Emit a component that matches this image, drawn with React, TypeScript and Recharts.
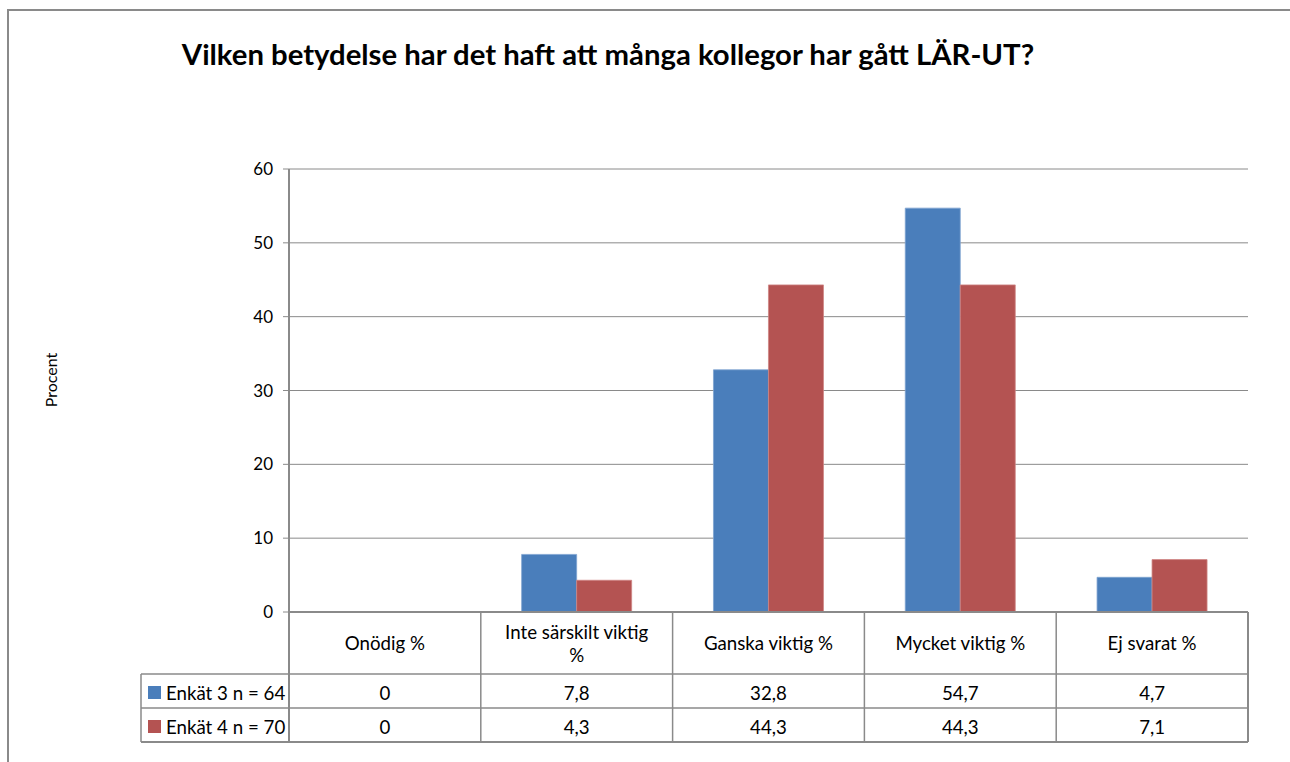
import React from "react";
import { BarChart, Bar, XAxis, YAxis, CartesianGrid } from "recharts";

const categories = ["Onödig %", "Inte särskilt viktig %", "Ganska viktig %", "Mycket viktig %", "Ej svarat %"];
const headerLines = [["Onödig %"], ["Inte särskilt viktig", "%"], ["Ganska viktig %"], ["Mycket viktig %"], ["Ej svarat %"]];
const enkat3 = [0, 7.8, 32.8, 54.7, 4.7];
const enkat4 = [0, 4.3, 44.3, 44.3, 7.1];
const enkat3Labels = ["0", "7,8", "32,8", "54,7", "4,7"];
const enkat4Labels = ["0", "4,3", "44,3", "44,3", "7,1"];
const seriesNames = ["Enkät 3 n = 64", "Enkät 4 n = 70"];
const yTicks = [0, 10, 20, 30, 40, 50, 60];

const data = categories.map((c, i) => ({ name: c, e3: enkat3[i], e4: enkat4[i] }));

const W = 1290;
const H = 762;
const PL = 289;
const PR = 1248;
const PT = 169;
const PB = 612;
const ROW0 = 674;
const ROW1 = 708;
const ROW2 = 742;
const LEG_L = 141;
const FONT = "Lato, 'Open Sans', sans-serif";
const BLUE = "#4A7EBB";
const RED = "#B45352";
const LINE = "#8A8A8A";
const TFS = 18.7;

export default function App() {
  const colW = (PR - PL) / categories.length;
  return (
    <div style={{ position: "absolute", left: 0, top: 0, width: W, height: H, background: "#fff", overflow: "hidden", fontFamily: FONT }}>
      <div style={{ position: "absolute", left: 7, top: 9, width: W, height: H, border: `2px solid ${LINE}`, boxSizing: "border-box" }} />
      <BarChart
        width={W}
        height={H}
        data={data}
        margin={{ top: PT, right: W - PR, bottom: H - PB, left: PL - 60 }}
        barCategoryGap="21.3%"
        barGap={0}
        style={{ position: "absolute", left: 0, top: 0 }}
      >
        <CartesianGrid horizontal={true} vertical={false} stroke={LINE} strokeWidth={1} />
        <XAxis dataKey="name" hide />
        <YAxis
          width={60}
          domain={[0, 60]}
          ticks={yTicks}
          interval={0}
          tickSize={6}
          tickLine={{ stroke: LINE }}
          axisLine={{ stroke: LINE, strokeWidth: 2 }}
          tick={{ fill: "#000", fontSize: 17, fontFamily: FONT }}
          tickMargin={10}
        />
        <Bar dataKey="e3" fill={BLUE} stroke="#7FA3D0" strokeWidth={0.8} isAnimationActive={false} />
        <Bar dataKey="e4" fill={RED} stroke="#CF8584" strokeWidth={0.8} isAnimationActive={false} />
      </BarChart>
      <svg width={W} height={H} style={{ position: "absolute", left: 0, top: 0, pointerEvents: "none" }}>
        <text x={0} y={0} transform="translate(57,380) rotate(-90)" textAnchor="middle" fontSize={16} fontFamily={FONT} fill="#000">
          Procent
        </text>
        <text x={608} y={65} textAnchor="middle" fontSize={29.3} fontWeight={700} fontFamily={FONT} fill="#000">
          Vilken betydelse har det haft att många kollegor har gått LÄR-UT?
        </text>
        <line x1={PL} x2={PR} y1={PB} y2={PB} stroke={LINE} strokeWidth={2} />
        <line x1={PR} x2={PR} y1={PB} y2={ROW2} stroke={LINE} strokeWidth={2} />
        <line x1={LEG_L} x2={PR} y1={ROW0} y2={ROW0} stroke={LINE} strokeWidth={1.5} />
        <line x1={LEG_L} x2={PR} y1={ROW1} y2={ROW1} stroke={LINE} strokeWidth={1.5} />
        <line x1={LEG_L} x2={PR} y1={ROW2} y2={ROW2} stroke={LINE} strokeWidth={2} />
        <line x1={LEG_L} x2={LEG_L} y1={ROW0} y2={ROW2} stroke={LINE} strokeWidth={1.5} />
        <line x1={PL} x2={PL} y1={PB} y2={ROW2} stroke={LINE} strokeWidth={2} />
        {categories.map((c, i) => (
          <line key={"v" + c} x1={PL + colW * (i + 1)} x2={PL + colW * (i + 1)} y1={PB} y2={ROW2} stroke={LINE} strokeWidth={1.5} />
        ))}
        {headerLines.map((lines, i) => {
          const cx = PL + colW * (i + 0.5);
          const lh = 23;
          const start = 650 - ((lines.length - 1) * lh) / 2;
          return lines.map((ln, j) => (
            <text key={"h" + i + j} x={cx} y={start + j * lh} textAnchor="middle" fontSize={TFS} fontFamily={FONT} fill="#000">
              {ln}
            </text>
          ));
        })}
        {[enkat3Labels, enkat4Labels].map((row, r) =>
          row.map((v, i) => (
            <text key={"c" + r + i} x={PL + colW * (i + 0.5)} y={r === 0 ? 700 : 734} textAnchor="middle" fontSize={TFS} fontFamily={FONT} fill="#000">
              {v}
            </text>
          ))
        )}
        {seriesNames.map((s, r) => {
          const base = r === 0 ? 700 : 734;
          return (
            <g key={"l" + r}>
              <rect x={148} y={base - 14} width={13} height={13} fill={r === 0 ? BLUE : RED} />
              <text x={166} y={base} fontSize={TFS} fontFamily={FONT} fill="#000">
                {s}
              </text>
            </g>
          );
        })}
      </svg>
    </div>
  );
}
